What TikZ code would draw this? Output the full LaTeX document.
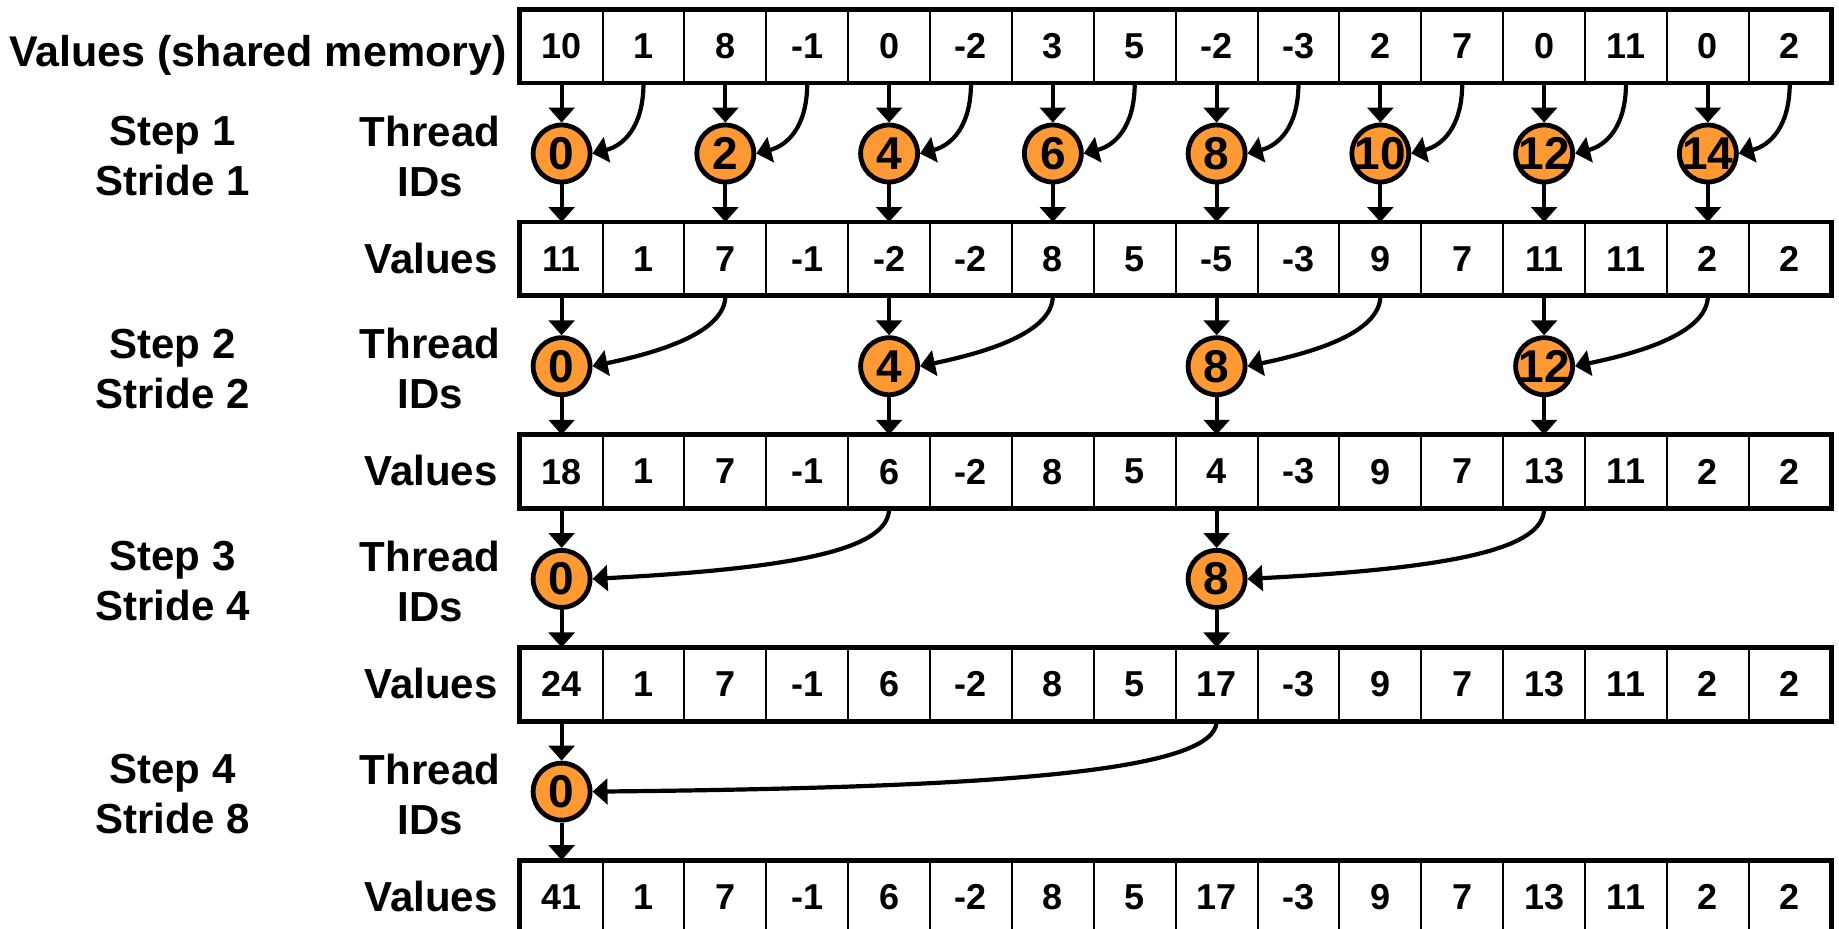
\documentclass[tikz,border=0pt]{standalone}
\usepackage{fontspec}
\setmainfont{Liberation Sans}
\usetikzlibrary{arrows.meta}
\definecolor{thrfill}{RGB}{255,153,51}
\begin{document}
\begin{tikzpicture}[x=0.5pt,y=-0.5pt,
  cell/.style={draw, line width=1pt, minimum width=40.94pt, minimum height=35.85pt,
    inner sep=0pt, font=\fontsize{18}{20}\selectfont\bfseries},
  thr/.style={circle, draw, line width=2.4pt, fill=thrfill, minimum size=28.5pt, inner sep=0pt},
  tnum/.style={inner sep=0pt, font=\fontsize{23}{25}\selectfont\bfseries},
  lbl/.style={font=\fontsize{21}{25}\selectfont\bfseries, align=center, inner sep=0pt},
  arr/.style={line width=2.1pt, -{Triangle[width=12.8pt,length=7.5pt]}},
  outline/.style={line width=2.4pt}]
\useasboundingbox (0,0) rectangle (1839,928);

% value arrays
\foreach \row/\vals in {
  0/{10,1,8,-1,0,-2,3,5,-2,-3,2,7,0,11,0,2},
  1/{11,1,7,-1,-2,-2,8,5,-5,-3,9,7,11,11,2,2},
  2/{18,1,7,-1,6,-2,8,5,4,-3,9,7,13,11,2,2},
  3/{24,1,7,-1,6,-2,8,5,17,-3,9,7,13,11,2,2},
  4/{41,1,7,-1,6,-2,8,5,17,-3,9,7,13,11,2,2}} {
  \foreach \v [count=\i from 0] in \vals {
    \node[cell] (r\row-\i) at ({561.6+81.875*\i},{46.2+212.7*\row}) {\v};
  }
  \draw[outline] (r\row-0.north west) rectangle (r\row-15.south east);
}

% labels
\node[lbl, anchor=base east, font=\fontsize{21.5}{25}\selectfont\bfseries] (vs) at (507,66.5) {Values (shared memory)};
\foreach \k in {1,2,3,4} {
  \node[lbl, anchor=east] (v\k) at (498,{45.5+212.7*\k}) {Values};
}
\foreach \k/\s in {0/1,1/2,2/4,3/8} {
  \pgfmathtruncatemacro\stepno{\k+1}
  \node[lbl] (st\k) at (172.5,{156+212.7*\k}) {Step \stepno\\Stride \s};
  \node[lbl] (ti\k) at (430,{156+212.7*\k}) {Thread\\IDs};
}

% threads and arrows
\foreach \k/\s/\ids/\a/\b/\c in {
  0/1/{0,2,4,6,8,10,12,14}/44/31/-8,
  1/2/{0,4,8,12}/38/62/-13,
  2/4/{0,8}/40/209/-11,
  3/8/{0}/50/409/-4} {
  \pgfmathtruncatemacro\kk{\k+1}
  \foreach \i in \ids {
    \pgfmathtruncatemacro\j{\i+\s}
    \node[thr, label={[tnum]center:\i}] (t\k-\i) at ({561.6+81.875*\i},{153.5+212.7*\k}) {};
    \draw[arr] (r\k-\i.south) -- (t\k-\i.north);
    \draw[arr] (r\k-\j.south) .. controls +(0,\a) and +(\b,\c) .. (t\k-\i.east);
    \draw[arr] (t\k-\i.south) -- (r\kk-\i.north);
  }
}
\end{tikzpicture}
\end{document}
